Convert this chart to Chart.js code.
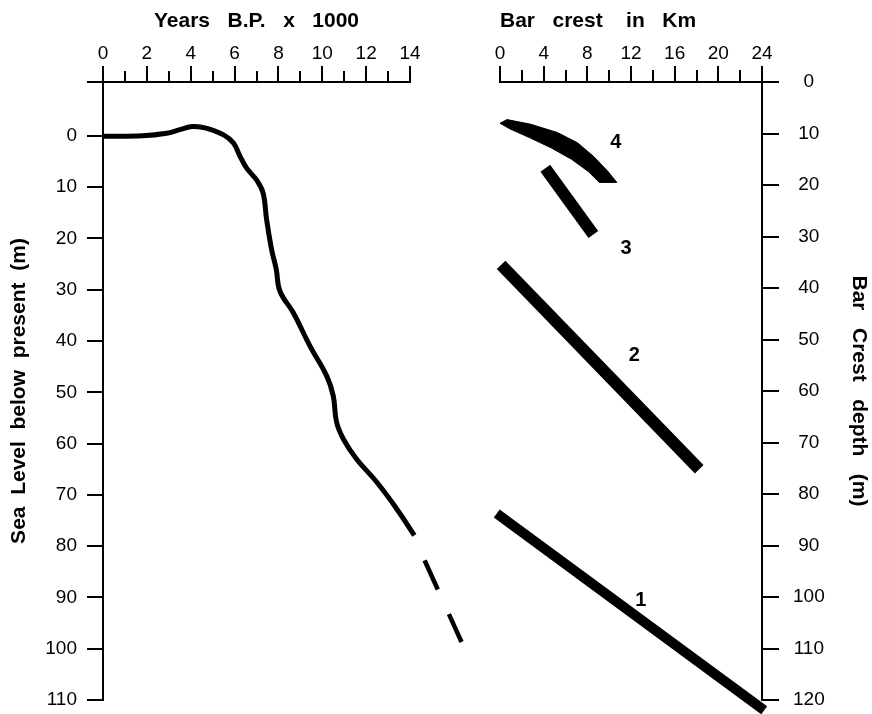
<!DOCTYPE html>
<html>
<head>
<meta charset="utf-8">
<script src="https://cdn.jsdelivr.net/npm/chart.js@4.4.1/dist/chart.umd.min.js"></script>
<style>
body { margin: 0; background: #fff; }
#wrap { position: relative; width: 872px; height: 714px; }
canvas { position: absolute; left: 0; top: 0; }
</style>
</head>
<body>
<div id="wrap">
  <canvas id="left" width="872" height="714"></canvas>
  <canvas id="right" width="872" height="714"></canvas>
</div>
<script>
// sea level curve (years B.P. x 1000, metres below present)
var years    = [0, 1.8, 2.9, 3.5, 4.1, 4.7, 5.5, 5.95, 6.25, 6.55, 7.0, 7.3, 7.46, 7.69, 7.9, 8.07, 8.68, 9.44, 10.2, 10.5, 10.65, 10.96, 11.56, 12.48, 13.39, 14.2];
var seaLevel = [0.1, 0, -0.5, -1.2, -1.8, -1.5, -0.2, 1.4, 4.0, 6.3, 8.6, 11.1, 16.3, 22.2, 26.0, 30.3, 34.5, 41.0, 46.8, 50.7, 55.8, 59.1, 63.0, 67.5, 72.7, 77.9];
// dashed (uncertain) part
var dashYears = [14.2, 14.68, 16.35];
var dashLevel = [77.9, 82.9, 98.7];

// bar crests 1-3: crest line (km offshore, crest depth m)
var bar1Km    = [-0.3, 24.2];
var bar1Depth = [83.8, 122];
var bar2Km    = [0.1, 18.25];
var bar2Depth = [35.5, 75.2];
var bar3Km    = [4.15, 8.55];
var bar3Depth = [16.75, 29.6];
// bar crest 4: outline of the curved band
var bar4Km    = [0, 0.65, 2.8, 5.25, 7.1, 8.6, 9.9, 10.7, 9.1, 8.1, 6.55, 4.7, 2.7, 0.9, 0];
var bar4Depth = [8.0, 7.3, 8.2, 9.8, 11.8, 14.5, 17.4, 19.5, 19.5, 17.4, 15.0, 12.8, 10.8, 9.1, 8.0];

var barNames      = ['1', '2', '3', '4'];
var barLabelKm    = [12.9, 12.3, 11.55, 10.6];
var barLabelDepth = [100.6, 53.2, 32.3, 11.7];

// ticks
var yearTicks  = [0, 1, 2, 3, 4, 5, 6, 7, 8, 9, 10, 11, 12, 13, 14];
var levelTicks = [-10.5, 0, 10, 20, 30, 40, 50, 60, 70, 80, 90, 100, 110];
var kmTicks    = [0, 2, 4, 6, 8, 10, 12, 14, 16, 18, 20, 22, 24];
var depthTicks = [0, 10, 20, 30, 40, 50, 60, 70, 80, 90, 100, 110, 120];

Chart.defaults.font.family = '"Liberation Sans", Arial, sans-serif';
Chart.defaults.color = '#000';

var pts = (xs, ys) => xs.map((x, i) => ({x: x, y: ys[i]}));
var tickFont = {size: 19};
var titleFont = {size: 21, weight: 'bold'};
// range set after the data limits so points past the axis ends still get drawn
var range = (lo, hi) => s => { s.min = lo; s.max = hi; };
// fixed axis width, no extra room asked for the end labels
var fixWidth = w => s => { s.width = w; s.paddingTop = 0; s.paddingBottom = 0; };

// left panel
new Chart(document.getElementById('left'), {
  type: 'scatter',
  data: {
    datasets: [
      {data: pts(years, seaLevel), showLine: true, borderColor: '#000', borderWidth: 5,
       pointRadius: 0, tension: 0.4, clip: false},
      {data: pts(dashYears, dashLevel), showLine: true, borderColor: '#000', borderWidth: 4.5,
       pointRadius: 0, tension: 0, borderDash: [32, 27], borderDashOffset: 32, clip: false}
    ]
  },
  options: {
    responsive: false, animation: false, events: [],
    layout: {padding: {left: 0, top: 0, right: 462, bottom: 14}},
    plugins: {legend: {display: false}, tooltip: {enabled: false}},
    scales: {
      x: {
        type: 'linear', position: 'top', bounds: 'data',
        afterDataLimits: range(0, 14),
        afterBuildTicks: s => { s.ticks = yearTicks.map(v => ({value: v})); },
        afterFit: s => { s.height = 82; },
        border: {color: '#000', width: 2},
        grid: {drawOnChartArea: false, color: '#000', lineWidth: 2, tickLength: 16,
               tickBorderDash: c => (c.tick && c.tick.value % 2) ? [0, 5, 100] : []},
        ticks: {autoSkip: false, maxRotation: 0, padding: 1, font: tickFont,
                callback: v => v % 2 === 0 ? v : ''},
        title: {display: true, text: 'Years   B.P.   x   1000', font: titleFont, padding: {top: 9, bottom: 0}}
      },
      y: {
        type: 'linear', position: 'left', reverse: true, bounds: 'data',
        afterDataLimits: range(-10.5, 110),
        afterBuildTicks: s => { s.ticks = levelTicks.map(v => ({value: v})); },
        afterFit: fixWidth(103),
        border: {color: '#000', width: 2},
        grid: {drawOnChartArea: false, color: '#000', lineWidth: 2, tickLength: 16},
        ticks: {autoSkip: false, padding: 10, font: tickFont, callback: v => v < 0 ? '' : v},
        title: {display: true, text: 'Sea  Level  below  present  (m)', font: titleFont, padding: {top: 7, bottom: 0}}
      }
    }
  }
});

var barLabels = {
  id: 'barLabels',
  afterDatasetsDraw(chart) {
    var ctx = chart.ctx, xs = chart.scales.x, ys = chart.scales.y;
    ctx.save();
    ctx.fillStyle = '#000';
    ctx.font = 'bold 20px "Liberation Sans", Arial, sans-serif';
    ctx.textAlign = 'center';
    ctx.textBaseline = 'middle';
    barNames.forEach((n, i) => {
      ctx.fillText(n, xs.getPixelForValue(barLabelKm[i]), ys.getPixelForValue(barLabelDepth[i]));
    });
    ctx.restore();
  }
};

var crest = (xs, ys, w) => ({data: pts(xs, ys), showLine: true, borderColor: '#000', borderWidth: w,
  borderCapStyle: 'butt', pointRadius: 0, tension: 0, clip: false});

// right panel
new Chart(document.getElementById('right'), {
  type: 'scatter',
  data: {
    datasets: [
      crest(bar1Km, bar1Depth, 10),
      crest(bar2Km, bar2Depth, 12),
      crest(bar3Km, bar3Depth, 12),
      {data: pts(bar4Km, bar4Depth), showLine: true, borderColor: '#000', borderWidth: 1,
       backgroundColor: '#000', fill: 'shape', pointRadius: 0, tension: 0, clip: false}
    ]
  },
  options: {
    responsive: false, animation: false, events: [],
    layout: {padding: {left: 500, top: 0, right: 0, bottom: 14}},
    plugins: {legend: {display: false}, tooltip: {enabled: false}},
    scales: {
      x: {
        type: 'linear', position: 'top', bounds: 'data',
        afterDataLimits: range(0, 24),
        afterBuildTicks: s => { s.ticks = kmTicks.map(v => ({value: v})); },
        afterFit: s => { s.height = 82; },
        border: {color: '#000', width: 2},
        grid: {drawOnChartArea: false, color: '#000', lineWidth: 2, tickLength: 16,
               tickBorderDash: c => (c.tick && c.tick.value % 4) ? [0, 4, 100] : []},
        ticks: {autoSkip: false, maxRotation: 0, padding: 1, font: tickFont,
                callback: v => v % 4 === 0 ? v : ''},
        title: {display: true, text: 'Bar   crest    in   Km', align: 'start', font: titleFont, padding: {top: 9, bottom: 0}}
      },
      y: {
        type: 'linear', position: 'right', reverse: true, bounds: 'data',
        afterDataLimits: range(0, 120),
        afterBuildTicks: s => { s.ticks = depthTicks.map(v => ({value: v})); },
        afterFit: fixWidth(110),
        border: {color: '#000', width: 2},
        grid: {drawOnChartArea: false, color: '#000', lineWidth: 2, tickLength: 17},
        ticks: {autoSkip: false, padding: 14, crossAlign: 'center', font: tickFont},
        title: {display: true, text: 'Bar   Crest   depth   (m)', font: titleFont, padding: {top: 1, bottom: 0}}
      }
    }
  },
  plugins: [barLabels]
});
</script>
</body>
</html>
